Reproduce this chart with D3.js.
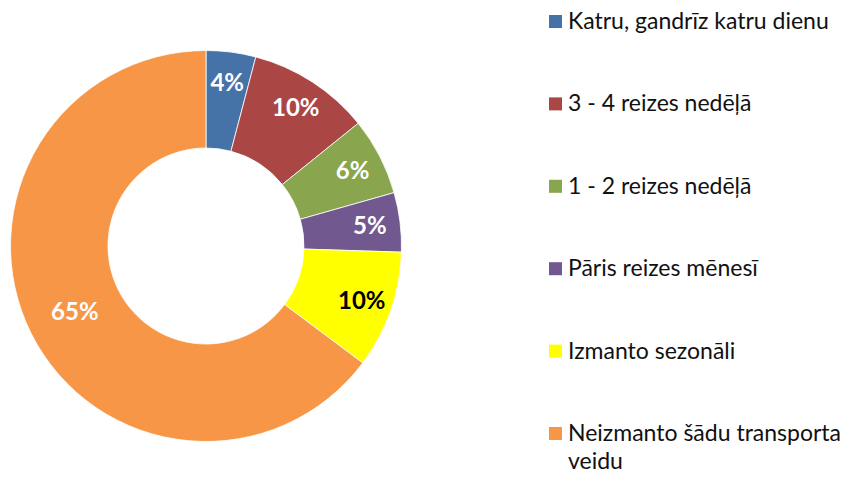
<!DOCTYPE html>
<html>
<head>
<meta charset="utf-8">
<script src="https://cdn.jsdelivr.net/npm/d3@7"></script>
<style>
  html, body { margin: 0; padding: 0; background: #fff; }
  svg { display: block; }
</style>
</head>
<body>
<svg id="chart" width="851" height="477"></svg>
<script>
const categories = [
  "Katru, gandrīz katru dienu",
  "3 - 4 reizes nedēļā",
  "1 - 2 reizes nedēļā",
  "Pāris reizes mēnesī",
  "Izmanto sezonāli",
  "Neizmanto šādu transporta veidu"
];
const values = [4.1, 10.1, 6.4, 4.9, 9.7, 64.8];
const labels = ["4%", "10%", "6%", "5%", "10%", "65%"];
const colors = ["#4572A7", "#AA4643", "#89A54E", "#71588F", "#FFFF00", "#F79646"];
const labelColors = ["#fff", "#fff", "#fff", "#fff", "#000", "#fff"];

const svg = d3.select("#chart");
const cx = 206, cy = 246;
const outerR = 195.5, innerR = 98;

const data = categories.map((c, i) => ({ name: c, value: values[i], label: labels[i], color: colors[i], lc: labelColors[i] }));

const pie = d3.pie().sort(null).value(d => d.value);
const arcs = pie(data);
const arc = d3.arc().innerRadius(innerR).outerRadius(outerR);
const labelArcSmall = d3.arc().innerRadius(165).outerRadius(165);

const g = svg.append("g").attr("transform", `translate(${cx},${cy})`);
g.selectAll("path.slice")
  .data(arcs)
  .enter().append("path")
  .attr("class", "slice")
  .attr("d", arc)
  .attr("fill", d => d.data.color)
  .attr("stroke", "#fff")
  .attr("stroke-width", 0.8);

g.selectAll("text.lbl")
  .data(arcs)
  .enter().append("text")
  .attr("class", "lbl")
  .attr("transform", d => {
    const c = (d.data.value > 50 ? arc : labelArcSmall).centroid(d);
    return `translate(${c[0]},${c[1]})`;
  })
  .attr("text-anchor", "middle")
  .attr("dy", "0.36em")
  .attr("font-family", "Lato, 'Open Sans', sans-serif")
  .attr("font-weight", "bold")
  .attr("font-size", 24)
  .attr("fill", d => d.data.lc)
  .text(d => d.data.label);

// Legend
const rowY = d3.scaleLinear().domain([0, categories.length - 1]).range([29, 441]);
const lg = svg.append("g");
const rows = lg.selectAll("g.row").data(data).enter().append("g")
  .attr("class", "row")
  .attr("transform", (d, i) => `translate(0,${rowY(i)})`);
rows.append("rect")
  .attr("x", 549).attr("y", -14)
  .attr("width", 13).attr("height", 13)
  .attr("fill", d => d.color);
const maxW = 851 - 568 - 4;
rows.each(function(d) {
  const t = d3.select(this).append("text")
    .attr("x", 568).attr("y", 0)
    .attr("font-family", "Lato, 'Open Sans', sans-serif")
    .attr("font-size", 23)
    .attr("fill", "#111");
  const words = d.name.split(" ");
  let line = [];
  let tspan = t.append("tspan").attr("x", 568).attr("dy", 0);
  words.forEach(w => {
    line.push(w);
    tspan.text(line.join(" "));
    if (tspan.node().getComputedTextLength() > maxW && line.length > 1) {
      line.pop();
      tspan.text(line.join(" "));
      line = [w];
      tspan = t.append("tspan").attr("x", 568).attr("dy", 28).text(w);
    }
  });
});
</script>
</body>
</html>
